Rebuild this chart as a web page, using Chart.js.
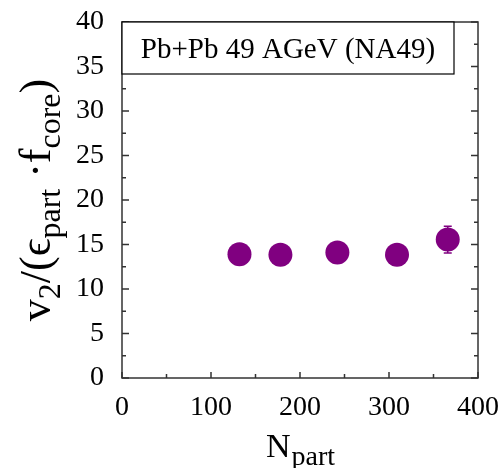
<!DOCTYPE html>
<html>
<head>
<meta charset="utf-8">
<script src="https://cdn.jsdelivr.net/npm/chart.js@4.4.1/dist/chart.umd.min.js"></script>
<style>
  html, body { margin: 0; padding: 0; background: #fff; }
  #wrap { width: 501px; height: 468px; position: relative; }
</style>
</head>
<body>
<div id="wrap"><canvas id="grafico"></canvas></div>
<script>
// datos
const nPart = [132, 178, 242, 309, 366];
const v2Ratio = [13.9, 13.85, 14.1, 13.85, 15.55];
const v2Err = [0.6, 0.6, 0.6, 0.6, 1.5];
const xTicks = [0, 100, 200, 300, 400];
const yTicks = [0, 5, 10, 15, 20, 25, 30, 35, 40];
const legendText = "Pb+Pb 49 AGeV (NA49)";

const FUENTE = "'Liberation Serif', 'DejaVu Serif', serif";
const PURPURA = '#800080';

// marco, ticks hacia adentro, barras de error, titulos y caja del texto
const pluginDibujo = {
    id: 'dibujo',
    afterDatasetsDraw(chart) {
        const ctx = chart.ctx;
        const xs = chart.scales.x;
        const ys = chart.scales.y;

        // barras de error
        ctx.save();
        ctx.strokeStyle = PURPURA;
        ctx.lineWidth = 1.5;
        nPart.forEach((n, i) => {
            const px = xs.getPixelForValue(n);
            const top = ys.getPixelForValue(v2Ratio[i] + v2Err[i]);
            const bot = ys.getPixelForValue(v2Ratio[i] - v2Err[i]);
            ctx.beginPath();
            ctx.moveTo(px, top); ctx.lineTo(px, bot);
            ctx.moveTo(px - 4, top); ctx.lineTo(px + 4, top);
            ctx.moveTo(px - 4, bot); ctx.lineTo(px + 4, bot);
            ctx.stroke();
        });
        ctx.restore();
    },
    afterDraw(chart) {
        const ctx = chart.ctx;
        const area = chart.chartArea;
        const xs = chart.scales.x;
        const ys = chart.scales.y;

        ctx.save();
        ctx.strokeStyle = '#333';
        ctx.lineWidth = 1.5;
        ctx.strokeRect(area.left, area.top, area.right - area.left, area.bottom - area.top);

        ctx.beginPath();
        // ticks eje x (mayores cada 100, menores cada 50)
        for (let v = 0; v <= 400; v += 50) {
            const px = xs.getPixelForValue(v);
            const len = (v % 100 === 0) ? 6 : 4;
            ctx.moveTo(px, area.bottom); ctx.lineTo(px, area.bottom - len);
        }
        // ticks eje y a ambos lados
        for (let v = 0; v <= 40; v += 2.5) {
            const py = ys.getPixelForValue(v);
            const len = (v % 5 === 0) ? 7 : 4;
            ctx.moveTo(area.left, py); ctx.lineTo(area.left + len, py);
            ctx.moveTo(area.right, py); ctx.lineTo(area.right - len, py);
        }
        ctx.stroke();

        // caja con el texto
        ctx.fillStyle = '#fff';
        ctx.fillRect(area.left, area.top, 332, 52);
        ctx.strokeStyle = '#000';
        ctx.lineWidth = 1.2;
        ctx.strokeRect(area.left, area.top, 332, 52);
        ctx.fillStyle = '#000';
        ctx.font = '29px ' + FUENTE;
        ctx.textAlign = 'center';
        ctx.textBaseline = 'alphabetic';
        ctx.fillText(legendText, area.left + 166, area.top + 36);

        // titulo eje x: N_part
        ctx.textAlign = 'left';
        ctx.font = '34px ' + FUENTE;
        const wN = ctx.measureText('N').width;
        ctx.font = '28px ' + FUENTE;
        const wSub = ctx.measureText('part').width;
        let x0 = (area.left + area.right) / 2 - (wN + wSub) / 2;
        ctx.font = '34px ' + FUENTE;
        ctx.fillText('N', x0, 457);
        ctx.font = '28px ' + FUENTE;
        ctx.fillText('part', x0 + wN + 1, 465);

        // titulo eje y: v2/(eps_part . f_core)
        const partes = [
            ['v', 44, 0], ['2', 32, 10], ['/(', 44, 0], ['\u03F5', 44, 0],
            ['part', 32, 10], [' \u00B7', 44, 0], ['f', 44, 0], ['core', 32, 10], [')', 44, 0]
        ];
        let total = 0;
        partes.forEach(p => { ctx.font = p[1] + 'px ' + FUENTE; total += ctx.measureText(p[0]).width; });
        ctx.translate(50, (area.top + area.bottom) / 2);
        ctx.rotate(-Math.PI / 2);
        let cx = -total / 2;
        partes.forEach(p => {
            ctx.font = p[1] + 'px ' + FUENTE;
            ctx.fillText(p[0], cx, p[2]);
            cx += ctx.measureText(p[0]).width;
        });
        ctx.restore();
    }
};

const ctxGrafico = document.getElementById('grafico').getContext('2d');
new Chart(ctxGrafico, {
    type: 'scatter',
    data: {
        datasets: [{
            data: nPart.map((n, i) => ({ x: n, y: v2Ratio[i] })),
            pointRadius: 12,
            pointHoverRadius: 12,
            pointBackgroundColor: PURPURA,
            pointBorderWidth: 0
        }]
    },
    options: {
        responsive: true,
        maintainAspectRatio: false,
        animation: false,
        layout: { padding: { left: 0, top: 22, right: 23, bottom: 0 } },
        plugins: { legend: { display: false }, tooltip: { enabled: false } },
        scales: {
            x: {
                type: 'linear', min: 0, max: 400,
                afterFit: s => { s.height = 90; s.paddingLeft = 0; s.paddingRight = 0; },
                afterBuildTicks: s => { s.ticks = xTicks.map(v => ({ value: v })); },
                grid: { display: false, drawTicks: false },
                border: { display: false },
                ticks: { color: '#000', padding: 13, maxRotation: 0, font: { family: FUENTE, size: 28 } }
            },
            y: {
                type: 'linear', min: 0, max: 40,
                afterFit: s => { s.width = 122; s.paddingTop = 0; s.paddingBottom = 0; },
                afterBuildTicks: s => { s.ticks = yTicks.map(v => ({ value: v })); },
                grid: { display: false, drawTicks: false },
                border: { display: false },
                ticks: { color: '#000', padding: 18, font: { family: FUENTE, size: 28 } }
            }
        }
    },
    plugins: [pluginDibujo]
});
</script>
</body>
</html>
